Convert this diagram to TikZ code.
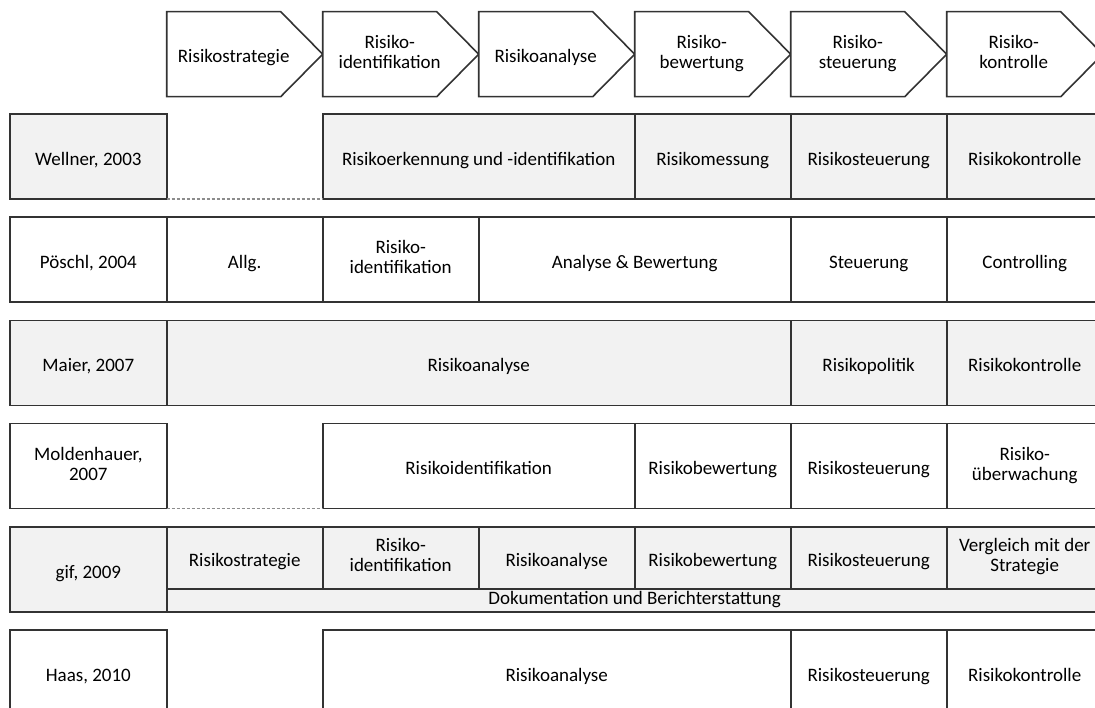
\documentclass[tikz,border=0pt]{standalone}
\usepackage{fontspec}
\setmainfont{Carlito}
\usepackage{tikz}

\newcommand{\cellstrut}{\rule[-5pt]{0pt}{27.4pt}}
\tikzset{
	cell/.style={draw=black!80,line width=1.6pt,minimum height=85pt,minimum width=156pt,inner sep=0pt,outer sep=0pt,align=center,font=\fontsize{19}{20}\selectfont,execute at begin node=\cellstrut,execute at end node=\cellstrut},
	greycell/.style={cell,fill=black!5},
	chev/.style={draw=black!80,line width=1.6pt,fill=white,line join=miter},
	chevtext/.style={align=center,inner sep=0pt,font=\fontsize{19}{20}\selectfont,execute at begin node=\cellstrut,execute at end node=\cellstrut},
	gap/.style={draw=black!45,line width=1.2pt,dash pattern=on 3pt off 2pt},
}

\begin{document}
\begin{tikzpicture}[x=1pt,y=-1pt]
	\useasboundingbox (0,0) rectangle (1095,708);
	\clip (0,0) rectangle (1095,708);
	% phases on top
	\draw[chev] (166.7,11.7) -- (280.7,11.7) -- (322.7,54.2) -- (280.7,96.7) -- (166.7,96.7) -- cycle;
	\node[chevtext] (h1) at (233.7,54.2) {Risikostrategie};
	\draw[chev] (322.7,11.7) -- (436.7,11.7) -- (478.7,54.2) -- (436.7,96.7) -- (322.7,96.7) -- cycle;
	\node[chevtext] (h2) at (389.7,54.2) {Risiko-\\identifikation};
	\draw[chev] (478.7,11.7) -- (592.7,11.7) -- (634.7,54.2) -- (592.7,96.7) -- (478.7,96.7) -- cycle;
	\node[chevtext] (h3) at (545.7,54.2) {Risikoanalyse};
	\draw[chev] (634.7,11.7) -- (748.7,11.7) -- (790.7,54.2) -- (748.7,96.7) -- (634.7,96.7) -- cycle;
	\node[chevtext] (h4) at (701.7,54.2) {Risiko-\\bewertung};
	\draw[chev] (790.7,11.7) -- (904.7,11.7) -- (946.7,54.2) -- (904.7,96.7) -- (790.7,96.7) -- cycle;
	\node[chevtext] (h5) at (857.7,54.2) {Risiko-\\steuerung};
	\draw[chev] (946.7,11.7) -- (1060.7,11.7) -- (1102.7,54.2) -- (1060.7,96.7) -- (946.7,96.7) -- cycle;
	\node[chevtext] (h6) at (1013.7,54.2) {Risiko-\\kontrolle};

	% Wellner
	\node[greycell,minimum width=156.7pt] (wl) at (88.35,156.5) {Wellner, 2003};
	\node[greycell,minimum width=312pt] (w23) at (478.7,156.5) {Risikoerkennung und -identifikation};
	\node[greycell] (w4) at (712.7,156.5) {Risikomessung};
	\node[greycell] (w5) at (868.7,156.5) {Risikosteuerung};
	\node[greycell] (w6) at (1024.7,156.5) {Risikokontrolle};
	\draw[gap] (wl.south east) -- (w23.south west);

	% Pöschl
	\node[cell,minimum width=156.7pt] (pl) at (88.35,259.7) {Pöschl, 2004};
	\node[cell] (p1) at (244.7,259.7) {Allg.};
	\node[cell] (p2) at (400.7,259.7) {Risiko-\\identifikation};
	\node[cell,minimum width=312pt] (p34) at (634.7,259.7) {Analyse \& Bewertung};
	\node[cell] (p5) at (868.7,259.7) {Steuerung};
	\node[cell] (p6) at (1024.7,259.7) {Controlling};

	% Maier
	\node[greycell,minimum width=156.7pt] (ml) at (88.35,362.9) {Maier, 2007};
	\node[greycell,minimum width=624pt] (m14) at (478.7,362.9) {Risikoanalyse};
	\node[greycell] (m5) at (868.7,362.9) {Risikopolitik};
	\node[greycell] (m6) at (1024.7,362.9) {Risikokontrolle};

	% Moldenhauer
	\node[cell,minimum width=156.7pt] (dl) at (88.35,466.1) {Moldenhauer,\\2007};
	\node[cell,minimum width=312pt] (d23) at (478.7,466.1) {Risikoidentifikation};
	\node[cell] (d4) at (712.7,466.1) {Risikobewertung};
	\node[cell] (d5) at (868.7,466.1) {Risikosteuerung};
	\node[cell] (d6) at (1024.7,466.1) {Risiko-\\überwachung};
	\draw[gap] (dl.south east) -- (d23.south west);

	% gif
	\node[greycell,minimum width=156.7pt] (gl) at (88.35,569.3) {gif, 2009};
	\node[greycell,minimum height=62.2pt] (g1) at (244.7,557.9) {Risikostrategie};
	\node[greycell,minimum height=62.2pt] (g2) at (400.7,557.9) {Risiko-\\identifikation};
	\node[greycell,minimum height=62.2pt] (g3) at (556.7,557.9) {Risikoanalyse};
	\node[greycell,minimum height=62.2pt] (g4) at (712.7,557.9) {Risikobewertung};
	\node[greycell,minimum height=62.2pt] (g5) at (868.7,557.9) {Risikosteuerung};
	\node[greycell,minimum height=62.2pt] (g6) at (1024.7,557.9) {Vergleich mit der\\Strategie};
	\node[greycell,minimum height=22.8pt,minimum width=936pt,execute at begin node=,execute at end node=,text height=12pt,text depth=4pt] (g16) at (634.7,600.4) {Dokumentation und Berichterstattung};

	% Haas
	\node[cell,minimum width=156.7pt] (al) at (88.35,672.5) {Haas, 2010};
	\node[cell,minimum width=468pt] (a24) at (556.7,672.5) {Risikoanalyse};
	\node[cell] (a5) at (868.7,672.5) {Risikosteuerung};
	\node[cell] (a6) at (1024.7,672.5) {Risikokontrolle};
\end{tikzpicture}
\end{document}
